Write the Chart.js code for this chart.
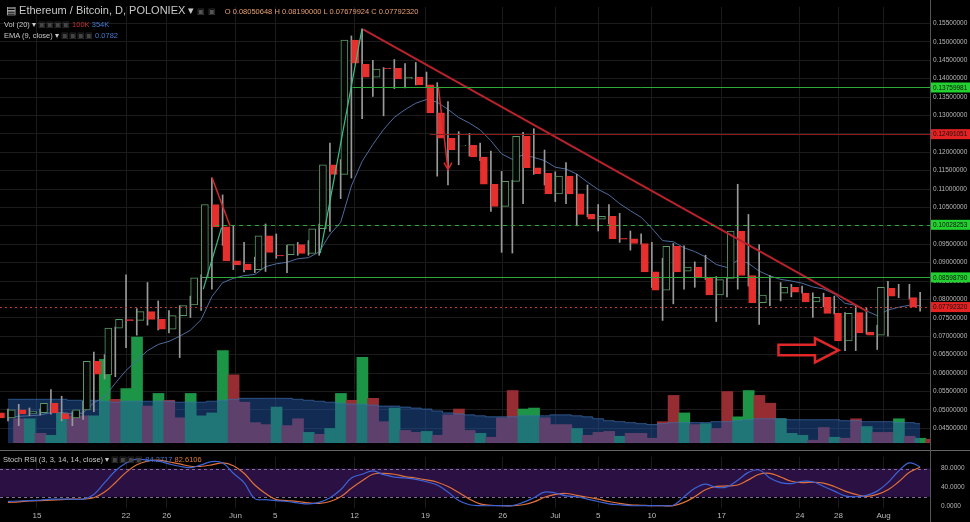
<!DOCTYPE html>
<html><head><meta charset="utf-8">
<script src="https://cdn.jsdelivr.net/npm/chart.js@4/dist/chart.umd.min.js"></script>
<style>
html,body{margin:0;padding:0;background:#000;width:970px;height:522px;overflow:hidden;font-family:"Liberation Sans",Arial,sans-serif}
#c1{position:absolute;left:0;top:0}
#c2{position:absolute;left:0;top:450px}
.t{position:absolute;white-space:nowrap;color:#c8c8c8}
</style></head><body>
<canvas id="c1" width="970" height="450"></canvas>
<canvas id="c2" width="970" height="72"></canvas>
<div class="t" style="left:6px;top:4px;font-size:11px">&#9636; Ethereum / Bitcoin, D, POLONIEX &#9662; <span style="font-size:8px;color:#555">&#9635; &#9635;</span>
<span style="font-size:7.5px;color:#e8a070;margin-left:6px">O 0.08050648 H 0.08190000 L 0.07679924 C 0.07792320</span></div>
<div class="t" style="left:4px;top:20px;font-size:7.5px">Vol (20) &#9662; <span style="color:#444">&#9635;&#9635;&#9635;&#9635;</span> <span style="color:#c03030">100K</span> <span style="color:#4a7ad0">354K</span></div>
<div class="t" style="left:4px;top:31px;font-size:7.5px">EMA (9, close) &#9662; <span style="color:#444">&#9635;&#9635;&#9635;&#9635;</span> <span style="color:#4a7ad0">0.0782</span></div>
<div class="t" style="left:3px;top:455px;font-size:7.5px">Stoch RSI (3, 3, 14, 14, close) &#9662; <span style="color:#444">&#9635;&#9635;&#9635;&#9635;</span> <span style="color:#4a7ad0">84.2717</span> <span style="color:#e07b3a">82.6106</span></div>
<script>
// ---------- data (one candle per day, May 12 .. Aug 5) ----------
const opens  = [.0492,.0478,.0500,.0490,.0492,.0518,.0490,.0478,.0500,.0632,.0595,.0722,.0745,.0743,.0767,.0746,.0719,.0756,.0785,.0859,.1058,.0997,.0905,.0896,.0881,.0973,.0920,.0922,.0949,.0925,.0992,.1166,.1140,.1505,.1439,.1404,.1428,.1428,.1399,.1404,.1383,.1307,.1238,.1217,.1219,.1187,.1113,.1053,.1121,.1243,.1158,.1143,.1087,.1135,.1087,.1031,.1018,.1026,.0966,.0965,.0952,.0875,.0825,.0944,.0877,.0888,.0859,.0812,.0857,.0986,.0865,.0791,.0817,.0817,.0833,.0817,.0793,.0806,.0762,.0687,.0764,.0711,.0703,.0830,.0806,.08050648];
const highs  = [.0502,.0515,.0505,.0502,.0555,.0537,.0495,.0523,.0657,.0650,.0725,.0867,.0775,.0846,.0796,.0770,.0783,.0809,.0867,.1130,.1084,.1000,.0955,.0915,.1005,.0978,.0947,.0955,.0960,.1005,.1225,.1180,.1516,.1534,.1450,.1430,.1452,.1441,.1444,.1418,.1389,.1338,.1256,.1251,.1225,.1203,.1148,.1124,.1254,.1264,.1206,.1147,.1172,.1140,.1111,.1058,.1058,.1034,.0986,.0978,.0955,.0912,.0952,.0946,.0902,.0920,.0862,.0859,.1113,.1031,.0949,.0865,.0846,.0841,.0836,.0818,.0817,.0809,.0764,.0783,.0777,.0730,.0849,.0841,.0841,.08190000];
const lows   = [.0470,.0457,.0484,.0486,.0488,.0470,.0457,.0474,.0495,.0584,.0590,.0669,.0703,.0730,.0717,.0709,.0642,.0751,.0770,.0828,.0947,.0881,.0875,.0873,.0876,.0912,.0873,.0920,.0920,.0920,.0985,.1074,.1130,.1291,.1352,.1299,.1373,.1375,.1383,.1378,.1135,.1111,.1166,.1190,.1177,.1039,.0928,.0926,.1060,.1140,.1111,.1066,.1060,.1000,.1025,.0986,.1005,.0955,.0934,.0950,.0833,.0743,.0788,.0828,.0833,.0854,.0740,.0807,.0828,.0836,.0732,.0783,.0796,.0807,.0817,.0751,.0780,.0760,.0661,.0661,.0706,.0664,.0700,.0805,.0801,.07679924];
const closes = [.0478,.0500,.0489,.0495,.0518,.0492,.0476,.0500,.0632,.0597,.0722,.0746,.0742,.0767,.0746,.0719,.0756,.0783,.0859,.1058,.0997,.0905,.0894,.0881,.0973,.0928,.0918,.0949,.0925,.0992,.1166,.1140,.1505,.1442,.1404,.1426,.1427,.1399,.1404,.1383,.1307,.1238,.1206,.1219,.1187,.1113,.1053,.1121,.1243,.1158,.1142,.1087,.1135,.1087,.1031,.1018,.1026,.0965,.0964,.0952,.0875,.0825,.0944,.0875,.0888,.0859,.0812,.0854,.0986,.0865,.0791,.0812,.0817,.0833,.0820,.0793,.0806,.0762,.0687,.0762,.0709,.0703,.0833,.0809,.0806,.07792320];
const volumes = [200,200,80,64,248,224,224,224,688,360,448,872,304,408,352,208,408,224,248,760,560,336,168,152,296,144,200,88,72,120,408,352,704,368,176,288,104,88,96,64,232,280,104,80,48,208,432,280,288,208,152,152,120,64,88,96,56,80,80,40,176,392,248,152,160,120,424,216,432,392,328,200,80,64,24,128,48,40,200,136,88,88,200,56,40,32];
const volMA = [360,360,360,360,360,360,352,352,352,344,336,344,344,344,344,344,336,336,336,344,352,360,368,368,368,368,368,360,352,344,336,328,320,320,312,304,304,296,288,280,264,248,240,232,224,216,216,216,224,224,224,232,232,224,216,200,184,176,168,160,152,160,168,168,168,168,176,176,184,192,200,200,200,192,192,192,192,192,184,184,176,176,176,168,168,160];
const stochK = [10,11,12,13,15,15,15,15,25,50,75,92,100,98,96,90,85,82,88,95,92,70,50,16,14,12,10,7,5,8,18,35,60,68,75,67,62,60,57,52,45,30,12,3,1,1,1,1,8,18,30,28,22,20,15,10,5,3,1,1,1,1,2,20,38,47,40,41,55,72,77,60,50,48,53,52,42,32,22,20,23,32,50,75,92,84];
const stochD = [8,9,11,12,13,14,15,15,18,30,50,72,88,96,98,94,90,85,85,88,92,86,70,45,27,14,12,10,7,6,10,20,38,54,68,70,68,63,60,56,51,42,29,15,5,2,1,1,3,9,19,25,27,23,19,15,10,6,3,2,1,1,1,8,20,35,42,43,45,56,68,70,62,53,50,51,49,42,32,25,21,25,35,52,72,83];
const tickDays   = [2.7,11.0,14.8,21.2,24.9,32.3,38.9,46.1,51.0,55.0,60.0,66.5,73.8,77.4,81.6];
const tickLabels = ["15","22","26","Jun","5","12","19","26","Jul","5","10","17","24","28","Aug"];
const priceTicks = [.045,.05,.055,.06,.065,.07,.075,.08,.085,.09,.095,.1,.105,.11,.115,.12,.125,.13,.135,.14,.145,.15,.155];
const levels = [ // price, start day, colour, dash, label bg
  [0.13759981,32.1,'#2fa83a',[],'#22d12f'],
  [0.12491051,39.3,'#8a1c1c',[],'#e42222'],
  [0.10028253,19.3,'#2fa83a',[4,4],'#22d12f'],
  [0.08598790,18.6,'#2fa83a',[],'#22d12f'],
  [0.07792320,-1,'#c0392b',[2,3],'#e42222']];
const trendLine = [[33.1,0.1534],[80.1,0.0767]];
const greenLine1 = [[29.1,0.0926],[33.0,0.1537]];
const greenLine2 = [[18.2,0.0828],[19.9,0.0995]];
const redLine2 = [[19.0,0.1132],[20.7,0.0999]];
const redArrow = [[40.1,0.1378],[41.0,0.1153]];
const arrowShape = [[71.8,0.0677],[75.2,0.0677],[75.2,0.0695],[77.4,0.0662],[75.2,0.0629],[75.2,0.0648],[71.8,0.0648]];

const idx = opens.map((_,i)=>i);
const XMIN=-0.745, XMAX=85.92;
const up = i => closes[i] >= opens[i];
const ema=[]; {const k=2/10; closes.forEach((c,i)=>ema.push(i?c*k+ema[i-1]*(1-k):c));}

const gridC='#1b1b1b', txtC='#b8b8b8';
const xTicks = s => { s.ticks = tickDays.map(v=>({value:v})); };
const pts = a => a.map(p=>({x:p[0],y:p[1]}));
const lineDs = (a,c,w,o) => ({type:'line',data:pts(a),borderColor:c,borderWidth:w,pointRadius:0,yAxisID:'y',order:o||1});

const overlay = {
  id:'overlay',
  afterDatasetsDraw(ch){
    const c=ch.ctx, xs=ch.scales.x, ys=ch.scales.y;
    levels.forEach(l=>{
      const y=Math.round(ys.getPixelForValue(l[0]))+0.5;
      c.save(); c.strokeStyle=l[2]; c.setLineDash(l[3]); c.lineWidth=1;
      c.beginPath(); c.moveTo(xs.getPixelForValue(Math.max(l[1],XMIN)),y); c.lineTo(ch.chartArea.right,y); c.stroke(); c.restore();
    });
    const a=redArrow[1];
    c.save(); c.strokeStyle='#d42a2a'; c.lineWidth=1.5; c.beginPath();
    c.moveTo(xs.getPixelForValue(a[0])-4,ys.getPixelForValue(a[1])-7);
    c.lineTo(xs.getPixelForValue(a[0]),ys.getPixelForValue(a[1]));
    c.lineTo(xs.getPixelForValue(a[0])+4,ys.getPixelForValue(a[1])-7); c.stroke();
    c.strokeStyle='#e02828'; c.lineWidth=2.5; c.beginPath();
    arrowShape.forEach((p,i)=>{const X=xs.getPixelForValue(p[0]),Y=ys.getPixelForValue(p[1]); i?c.lineTo(X,Y):c.moveTo(X,Y);});
    c.closePath(); c.stroke(); c.restore();
    c.save(); c.strokeStyle='#555'; c.beginPath(); c.moveTo(ch.chartArea.right+0.5,0); c.lineTo(ch.chartArea.right+0.5,ch.height); c.stroke();
    c.font='6.5px "Liberation Sans",Arial'; c.textBaseline='middle';
    levels.forEach(l=>{
      const y=ys.getPixelForValue(l[0]);
      c.fillStyle=l[4]; c.fillRect(ch.chartArea.right+1,y-5,39,10);
      c.fillStyle='#111'; c.fillText(l[0].toFixed(8),ch.chartArea.right+3,y+0.5);
    });
    c.restore();
  }
};

new Chart(document.getElementById('c1'),{
  type:'bar',
  data:{datasets:[
    {label:'vol',data:idx.map(i=>({x:i,y:volumes[i]})),yAxisID:'yv',barThickness:11,
      backgroundColor:idx.map(i=>up(i)?'rgb(28,150,70)':'rgb(150,45,50)'),order:10},
    {type:'line',label:'volMA',data:idx.map(i=>({x:i,y:volMA[i]})),yAxisID:'yv',stepped:'middle',
      borderColor:'rgba(60,110,170,0.7)',borderWidth:1,backgroundColor:'rgba(35,85,165,0.5)',fill:'origin',pointRadius:0,order:9},
    {label:'wick',data:idx.map(i=>({x:i,y:[lows[i],highs[i]]})),yAxisID:'y',barThickness:1,
      backgroundColor:'#9a9a9a',order:4},
    {label:'body',data:idx.map(i=>({x:i,y:[Math.min(opens[i],closes[i]),Math.max(opens[i],closes[i])]})),yAxisID:'y',barThickness:7,
      backgroundColor:idx.map(i=>up(i)?'#060606':'#e5302e'),borderColor:idx.map(i=>up(i)?'#5e9a68':'#e5302e'),
      borderWidth:1,borderSkipped:false,order:3},
    {type:'line',label:'ema',data:idx.map(i=>({x:i,y:ema[i]})),yAxisID:'y',borderColor:'#4d6c9e',borderWidth:1,pointRadius:0,order:5},
    lineDs(trendLine,'#b8222a',2),
    lineDs(greenLine1,'#3cc08a',1.2),
    lineDs(greenLine2,'#3cc08a',1.2),
    lineDs(redLine2,'#d42a2a',1.5),
    lineDs(redArrow,'#d42a2a',1.5)
  ]},
  options:{responsive:false,animation:false,maintainAspectRatio:false,
    layout:{padding:{top:0,bottom:2,left:0,right:0}},
    plugins:{legend:{display:false},tooltip:{enabled:false}},
    scales:{
      x:{type:'linear',offset:false,min:XMIN,max:XMAX,afterBuildTicks:xTicks,afterFit:s=>{s.height=0;},
        ticks:{display:false},grid:{color:gridC,drawTicks:false,offset:false},border:{display:false}},
      y:{position:'right',min:0.04096,max:0.1595,afterFit:s=>{s.width=40;},
        afterBuildTicks:s=>{s.ticks=priceTicks.map(v=>({value:v}));},
        ticks:{color:txtC,font:{size:6.5,family:'"Liberation Sans",Arial'},padding:3,callback:v=>v.toFixed(8)},
        grid:{color:gridC,drawTicks:false},border:{display:false}},
      yv:{display:false,min:0,max:3584}
    }},
  plugins:[overlay]
});

const rsiOverlay={id:'rsiOv',beforeDatasetsDraw(ch){
  const c=ch.ctx,ys=ch.scales.y,a=ch.chartArea;
  const y80=ys.getPixelForValue(80),y20=ys.getPixelForValue(20);
  c.save(); c.fillStyle='#2a1043'; c.fillRect(a.left,y80,a.right-a.left,y20-y80);
  c.strokeStyle='#7f6f98'; c.setLineDash([3,3]); c.lineWidth=1;
  [y80,y20].forEach(y=>{c.beginPath();c.moveTo(a.left,Math.round(y)+0.5);c.lineTo(a.right,Math.round(y)+0.5);c.stroke();});
  c.setLineDash([]); c.strokeStyle='#666'; c.beginPath(); c.moveTo(0,0.5); c.lineTo(ch.width,0.5); c.stroke();
  c.strokeStyle='#555'; c.beginPath(); c.moveTo(a.right+0.5,0); c.lineTo(a.right+0.5,ch.height); c.stroke();
  c.restore();
}};

new Chart(document.getElementById('c2'),{
  type:'line',
  data:{datasets:[
    {data:idx.map(i=>({x:i,y:stochK[i]})),borderColor:'#3d63d6',borderWidth:1.2,pointRadius:0,tension:0.4},
    {data:idx.map(i=>({x:i,y:stochD[i]})),borderColor:'#e0713a',borderWidth:1.2,pointRadius:0,tension:0.4}
  ]},
  options:{responsive:false,animation:false,maintainAspectRatio:false,
    layout:{padding:{top:2,bottom:0,left:0,right:0}},
    plugins:{legend:{display:false},tooltip:{enabled:false}},
    scales:{
      x:{type:'linear',offset:false,min:XMIN,max:XMAX,afterBuildTicks:xTicks,afterFit:s=>{s.height=14;},
        ticks:{color:txtC,font:{size:8,family:'"Liberation Sans",Arial'},padding:3,maxRotation:0,autoSkip:false,
          callback:(v,i)=>tickLabels[i]},
        grid:{color:gridC,drawTicks:false},border:{display:false}},
      y:{position:'right',min:-3.9,max:104.9,afterFit:s=>{s.width=40;},
        afterBuildTicks:s=>{s.ticks=[0,40,80].map(v=>({value:v}));},
        ticks:{color:txtC,font:{size:6.5,family:'"Liberation Sans",Arial'},padding:3,callback:v=>v.toFixed(4)},
        grid:{display:false},border:{display:false}}
    }},
  plugins:[rsiOverlay]
});
</script></body></html>
